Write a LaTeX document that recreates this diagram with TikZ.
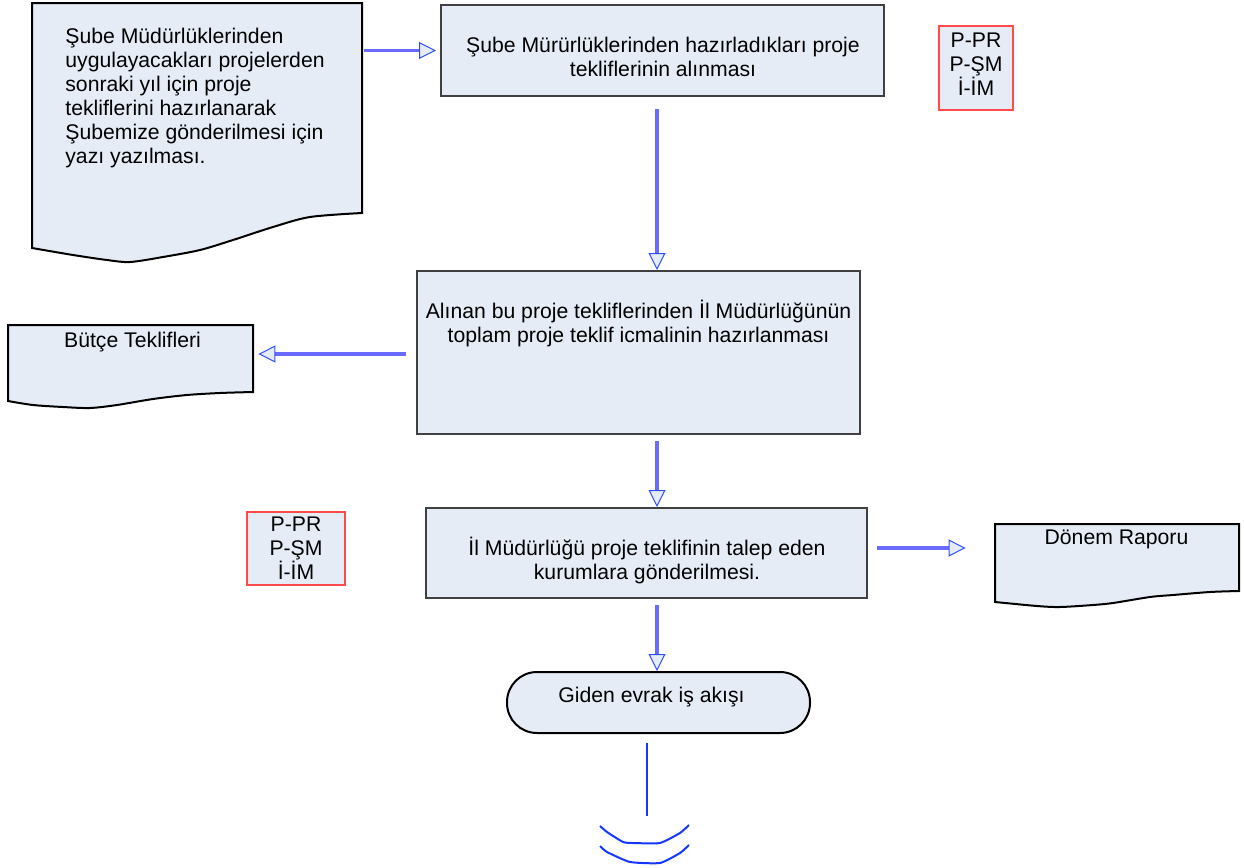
\documentclass[tikz,border=0pt]{standalone}
\usepackage{fontspec}
\setmainfont{Liberation Sans}
\usetikzlibrary{arrows.meta,fit}
\definecolor{boxfill}{HTML}{E6ECF6}
\definecolor{boxline}{HTML}{404040}
\definecolor{redline}{HTML}{FF4A4A}
\definecolor{flowblue}{HTML}{6A6AFF}
\definecolor{tipblue}{HTML}{2F4FFF}
\definecolor{endblue}{HTML}{1438FF}

\begin{document}
\begin{tikzpicture}[x=0.5pt, y=-0.5pt,
  every node/.style={font=\fontsize{10.6}{12}\selectfont, inner sep=0pt},
  procbox/.style={draw=boxline, line width=1pt, fill=boxfill},
  docshape/.style={draw=black, line width=1pt, fill=boxfill},
  docnode/.style={inner sep=0pt},
  codebox/.style={draw=redline, line width=0.8pt, fill=boxfill},
  termbox/.style={draw=black, line width=1pt, fill=boxfill, rounded corners=15pt},
  flow/.style={draw=flowblue, line width=1.9pt, -{Triangle[length=8.5pt,width=8.5pt,fill=boxfill,color=tipblue,line width=0.5pt]}},
  endline/.style={draw=endblue, line width=1pt},
  txt/.style={align=center, anchor=north}]
\useasboundingbox (0,0) rectangle (1244,868);

% documents
\draw[docshape] (32,3) -- (362,3) -- (362,213) -- plot[smooth, tension=0.5] coordinates {(362,213) (310,217) (273,227) (233,240) (200,250) (163,257) (130,262) (107,260) (73,255) (32,248)} -- cycle;
\node[docnode, fit={(32,3) (362,213)}] (d1) {};
\draw[docshape] (8,325) -- (253,325) -- (253,392) -- plot[smooth, tension=0.5] coordinates {(253,392) (220,393) (187,395) (153,399) (117,405) (90,408) (63,407) (33,405) (8,401)} -- cycle;
\node[docnode, fit={(8,325) (253,392)}] (d2) {};
\draw[docshape] (995,524) -- (1239,524) -- (1239,591) -- plot[smooth, tension=0.5] coordinates {(1239,591) (1210,592) (1173,595) (1150,597) (1113,603) (1093,605) (1060,607) (1037,606) (995,602)} -- cycle;
\node[docnode, fit={(995,524) (1239,591)}] (d3) {};

% process boxes
\node[procbox, fit={(441,5) (884,96)}] (b1) {};
\node[procbox, fit={(417,271) (860,434)}] (b2) {};
\node[procbox, fit={(426,508) (867,598)}] (b3) {};
\node[termbox, fit={(507,672) (810,733)}] (t) {};
\node[codebox, fit={(939,26) (1013,110)}] (r1) {};
\node[codebox, fit={(247,512) (345,585)}] (r2) {};

% texts
\node[anchor=north west, align=left] (d1t) at (65,28) {Şube Müdürlüklerinden\\uygulayacakları projelerden\\sonraki yıl için proje\\tekliflerini hazırlanarak\\Şubemize gönderilmesi için\\yazı yazılması.};
\node[txt] (b1t) at (663,37) {Şube Mürürlüklerinden hazırladıkları proje\\tekliflerinin alınması};
\node[txt] (b2t) at (638.5,300) {Alınan bu proje tekliflerinden İl Müdürlüğünün\\toplam proje teklif icmalinin hazırlanması};
\node[txt] (b3t) at (647,537) {İl Müdürlüğü proje teklifinin talep eden\\kurumlara gönderilmesi.};
\node[txt] (tt) at (651.5,686.5) {Giden evrak iş akışı};
\node[txt] (d2t) at (132.5,332) {Bütçe Teklifleri};
\node[txt] (d3t) at (1116.5,529.5) {Dönem Raporu};
\node[txt] (r1t) at (976,33) {P-PR\\P-ŞM\\İ-İM};
\node[txt] (r2t) at (296,516.5) {P-PR\\P-ŞM\\İ-İM};

% connectors
\coordinate (axis) at (657,0);
\coordinate (a5) at ([yshift=-0.75pt]b2.west);
\coordinate (a6) at ([yshift=2.5pt]b3.east);
\draw[flow, shorten <=1pt, shorten >=2pt] (d1.east |- b1.west) -- (b1.west);
\draw[flow, shorten <=6pt] (b1.south -| axis) -- (b2.north -| axis);
\draw[flow, shorten <=5pt, shorten >=2.5pt] (a5) -- (a5 -| d2.east);
\draw[flow, shorten <=3pt] (b2.south -| axis) -- (b3.north -| axis);
\draw[flow, shorten <=4.5pt, shorten >=14.5pt] (a6) -- (a6 -| d3.west);
\draw[flow, shorten <=3pt] (b3.south -| axis) -- (t.north -| axis);

% off-page connector
\coordinate (s1) at (647,743);
\coordinate (s2) at (647,816);
\draw[endline] (s1) -- (s2);
\draw[endline] plot[smooth, tension=0.3] coordinates {(600,826) (607,832) (623,842) (633,843) (660,843) (680,833) (689,825)};
\draw[endline] plot[smooth, tension=0.3] coordinates {(600,846) (607,852) (630,862) (660,863) (680,853) (689,845)};
\end{tikzpicture}
\end{document}
